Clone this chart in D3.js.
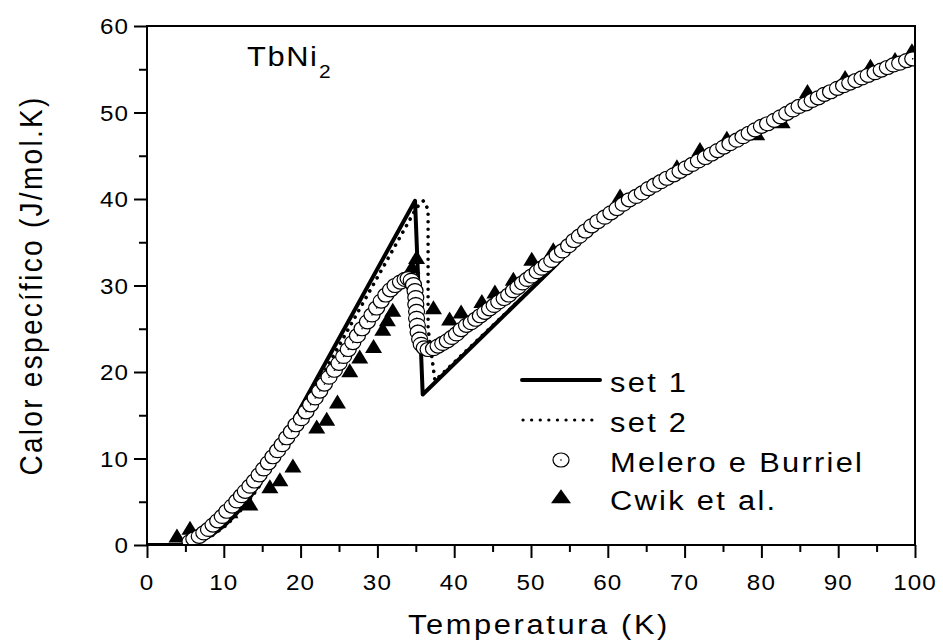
<!DOCTYPE html>
<html>
<head>
<meta charset="utf-8">
<script src="https://cdn.jsdelivr.net/npm/d3@7"></script>
<style>
body { margin: 0; background: #fff; }
text { font-family: "Liberation Sans", Arial, sans-serif; fill: #000; }
</style>
</head>
<body>
<svg id="chart" width="943" height="644"></svg>
<script>
// tick values
var xTicks = [0, 10, 20, 30, 40, 50, 60, 70, 80, 90, 100];
var xMinor = [5, 15, 25, 35, 45, 55, 65, 75, 85, 95];
var yTicks = [0, 10, 20, 30, 40, 50, 60];
var yMinor = [5, 15, 25, 35, 45, 55];

// model curves (temperature K, specific heat)
var set1T = [0, 4.1, 5.5, 7.0, 8.5, 10.0, 11.5, 13.0, 14.5, 16.0, 17.3, 34.9, 35.9, 51.2, 53.5, 56, 60, 65, 70, 75, 80, 85, 90, 95, 100];
var set1C = [0, 0, 0.1, 0.5, 1.2, 2.2, 3.5, 5.0, 6.9, 9.2, 11.5, 39.8, 17.4, 30.6, 32.6, 35.1, 37.8, 40.8, 43.3, 45.7, 48.1, 50.5, 52.6, 54.5, 56.4];
var set2T = [0, 4.1, 5.7, 7.2, 8.7, 10.2, 11.7, 13.2, 14.7, 16.2, 17.7, 35.1, 36.0, 36.6, 36.6, 37.5, 51.2, 53.5, 56, 60, 65, 70, 75, 80, 85, 90, 95, 100];
var set2C = [0, 0, 0.1, 0.5, 1.2, 2.2, 3.5, 5.0, 6.9, 9.2, 11.5, 39.0, 39.8, 38.8, 25.0, 19.0, 30.6, 32.6, 35.1, 37.8, 40.8, 43.3, 45.7, 48.1, 50.5, 52.6, 54.5, 56.4];

// Melero e Burriel [T, C]
var melero = [
  [5.6,0.4],[6.1,0.7],[6.8,1.0],[7.4,1.4],[8.0,1.8],[8.6,2.3],[9.2,2.8],[9.8,3.3],[10.4,3.9],[11.1,4.5],
  [11.7,5.1],[12.3,5.7],[12.8,6.2],[13.4,6.8],[14.0,7.4],[14.6,8.1],[15.2,8.8],[15.8,9.5],[16.4,10.2],[17.0,10.9],
  [17.6,11.6],[18.2,12.4],[18.8,13.1],[19.4,13.9],[20.1,14.6],[20.7,15.4],[21.3,16.2],[21.9,17.0],[22.5,17.8],[23.1,18.6],
  [23.7,19.4],[24.4,20.2],[25.0,21.0],[25.6,21.8],[26.2,22.6],[26.8,23.4],[27.4,24.2],[28.0,25.0],[28.7,25.8],[29.3,26.6],
  [29.9,27.4],[30.5,28.2],[31.1,28.9],[31.7,29.5],[32.3,30.0],[33.0,30.4],[33.6,30.7],[34.0,30.8],[34.4,30.6],[34.7,30.1],
  [34.9,29.4],[35.0,28.6],[35.0,27.8],[35.1,27.0],[35.1,26.2],[35.2,25.4],[35.3,24.6],[35.5,23.8],[35.7,23.2],[36.1,22.8],
  [36.6,22.6],[37.3,22.7],[37.9,23.0],[38.5,23.3],[39.1,23.6],[39.7,24.0],[40.3,24.4],[40.9,24.9],[41.6,25.4],[42.2,25.7],
  [42.8,26.1],[43.4,26.5],[44.0,26.9],[44.6,27.3],[45.2,27.7],[45.8,28.1],[46.5,28.5],[47.1,28.9],[47.7,29.4],[48.3,29.8],
  [48.9,30.3],[49.5,30.7],[50.1,31.1],[50.8,31.6],[51.4,32.0],[52.0,32.4],[52.7,32.9],[53.4,33.5],[54.1,34.0],[54.9,34.6],
  [55.6,35.2],[56.3,35.7],[57.1,36.3],[57.9,36.9],[58.7,37.4],[59.6,37.9],[60.4,38.4],[61.2,38.9],[62.0,39.4],[62.8,39.9],
  [63.7,40.3],[64.5,40.7],[65.3,41.2],[66.1,41.6],[66.9,42.0],[67.7,42.4],[68.6,42.8],[69.4,43.2],[70.2,43.6],[71.0,44.0],
  [71.8,44.4],[72.7,44.8],[73.5,45.2],[74.3,45.6],[75.1,46.0],[75.9,46.4],[76.8,46.8],[77.6,47.2],[78.4,47.6],[79.2,48.0],
  [80.0,48.4],[80.8,48.7],[81.7,49.1],[82.5,49.5],[83.3,49.9],[84.1,50.3],[84.9,50.7],[85.8,51.0],[86.6,51.4],[87.4,51.7],
  [88.2,52.1],[89.0,52.4],[89.9,52.8],[90.7,53.1],[91.5,53.4],[92.3,53.7],[93.1,54.0],[93.9,54.3],[94.8,54.6],[95.6,54.9],
  [96.4,55.2],[97.2,55.5],[98.0,55.7],[98.9,56.0],[99.7,56.2]
];

// Cwik et al. [T, C]
var cwik = [
  [3.9,0.9],[5.6,1.8],[10.8,3.7],[13.4,4.6],[16.0,6.6],[17.3,7.4],[19.0,9.0],[22.1,13.5],[23.4,14.4],[24.8,16.4],
  [26.4,20.0],[27.7,21.6],[29.5,22.8],[30.7,24.8],[31.3,25.9],[32.0,27.0],[34.5,32.0],[35.1,33.1],[37.3,27.3],[39.4,26.0],
  [40.9,26.8],[43.6,28.0],[45.3,29.1],[47.7,30.6],[50.1,32.9],[52.9,34.0],[61.6,40.2],[69.0,43.6],[72.0,45.6],[75.5,46.9],
  [79.4,47.4],[82.7,48.8],[86.0,52.3],[90.9,53.9],[94.2,55.2],[97.4,56.0],[99.6,57.0]
];

var legendItems = ["set 1", "set 2", "Melero e Burriel", "Cwik et al."];

var svg = d3.select('#chart');
var x = d3.scaleLinear().domain([0, 100]).range([147, 915]);
var y = d3.scaleLinear().domain([0, 60]).range([545, 26]);

var stretch = 1.1;

// triangle marker path, apex up
var triPath = function(w, h){
    return 'M0,' + (-h * 0.62) + 'L' + (w / 2) + ',' + (h * 0.38) + 'L' + (-w / 2) + ',' + (h * 0.38) + 'Z';
};

svg.append('clipPath').attr('id', 'plotclip')
  .append('rect')
    .attr('x', x(0)).attr('y', y(60))
    .attr('width', x(100) - x(0)).attr('height', y(0) - y(60));

var plot = svg.append('g').attr('clip-path', 'url(#plotclip)');

var line = d3.line()
    .x(function(d){ return x(d[0]); })
    .y(function(d){ return y(d[1]); });

var set1 = set1T.map(function(t, i){ return [t, set1C[i]]; });
var set2 = set2T.map(function(t, i){ return [t, set2C[i]]; });

plot.append('path')
    .datum(set1)
    .attr('d', line)
    .attr('fill', 'none')
    .attr('stroke', '#000')
    .attr('stroke-width', 4)
    .attr('stroke-linejoin', 'round');

plot.append('path')
    .datum(set2)
    .attr('d', line)
    .attr('fill', 'none')
    .attr('stroke', '#000')
    .attr('stroke-width', 3.6)
    .attr('stroke-linecap', 'round')
    .attr('stroke-dasharray', '0.1,7.4');

plot.selectAll('.tri')
    .data(cwik).enter()
    .append('path')
    .attr('class', 'tri')
    .attr('transform', function(d){ return 'translate(' + x(d[0]) + ',' + y(d[1]) + ')'; })
    .attr('d', triPath(17, 14))
    .attr('fill', '#000');

var pts = plot.selectAll('.pt')
    .data(melero).enter()
    .append('g')
    .attr('class', 'pt')
    .attr('transform', function(d){ return 'translate(' + x(d[0]) + ',' + y(d[1]) + ')'; });
pts.append('ellipse')
    .attr('rx', 8).attr('ry', 7)
    .attr('fill', '#fff')
    .attr('stroke', '#000')
    .attr('stroke-width', 1.2);
pts.append('circle')
    .attr('r', 0.8)
    .attr('fill', '#000');

// axes: ticks only, labels drawn below
var axB = svg.append('g').attr('transform', 'translate(0,' + y(0) + ')');
axB.call(d3.axisBottom(x).tickValues(xTicks).tickSize(13).tickFormat(''));
axB.append('g').call(d3.axisBottom(x).tickValues(xMinor).tickSize(7).tickFormat(''));
var axL = svg.append('g').attr('transform', 'translate(' + x(0) + ',0)');
axL.call(d3.axisLeft(y).tickValues(yTicks).tickSize(13).tickFormat(''));
axL.append('g').call(d3.axisLeft(y).tickValues(yMinor).tickSize(8).tickFormat(''));
svg.selectAll('.tick line').attr('stroke', '#000').attr('stroke-width', 2);
svg.selectAll('.domain').remove();

svg.append('rect')
    .attr('x', x(0)).attr('y', y(60))
    .attr('width', x(100) - x(0)).attr('height', y(0) - y(60))
    .attr('fill', 'none')
    .attr('stroke', '#000')
    .attr('stroke-width', 2);

// tick labels
svg.selectAll('.xlab')
    .data(xTicks).enter()
    .append('text')
    .attr('class', 'xlab')
    .attr('transform', function(d){ return 'translate(' + x(d) + ',590) scale(' + stretch + ',1)'; })
    .attr('text-anchor', 'middle')
    .style('font-size', '22px')
    .style('letter-spacing', '1px')
    .text(function(d){ return d; });

svg.selectAll('.ylab')
    .data(yTicks).enter()
    .append('text')
    .attr('class', 'ylab')
    .attr('transform', function(d){ return 'translate(129,' + (y(d) + 8) + ') scale(' + stretch + ',1)'; })
    .attr('text-anchor', 'end')
    .style('font-size', '22px')
    .style('letter-spacing', '1px')
    .text(function(d){ return d; });

// axis titles
svg.append('text')
    .attr('transform', 'translate(' + ((x(0) + x(100)) / 2 + 8) + ',634) scale(' + stretch + ',1)')
    .attr('text-anchor', 'middle')
    .style('font-size', '28px')
    .style('letter-spacing', '2.4px')
    .text('Temperatura (K)');

svg.append('text')
    .attr('transform', 'translate(42,' + ((y(0) + y(60)) / 2) + ') rotate(-90) scale(1,' + stretch + ')')
    .attr('text-anchor', 'middle')
    .style('font-size', '28px')
    .style('letter-spacing', '2.3px')
    .text('Calor específico (J/mol.K)');

// compound label
svg.append('text')
    .attr('transform', 'translate(247,66) scale(' + stretch + ',1)')
    .style('font-size', '28px')
    .style('letter-spacing', '1.5px')
    .text('TbNi');
svg.append('text')
    .attr('transform', 'translate(319,78) scale(' + stretch + ',1)')
    .style('font-size', '19px')
    .text('2');

// legend
var leg = svg.append('g');
var rowY = [380, 420, 460, 498];
leg.append('line')
    .attr('x1', 522).attr('x2', 600).attr('y1', rowY[0]).attr('y2', rowY[0])
    .attr('stroke', '#000').attr('stroke-width', 4).attr('stroke-linecap', 'round');
leg.append('line')
    .attr('x1', 523).attr('x2', 600).attr('y1', rowY[1]).attr('y2', rowY[1])
    .attr('stroke', '#000').attr('stroke-width', 3.2)
    .attr('stroke-linecap', 'round').attr('stroke-dasharray', '0.1,8.5');
leg.append('ellipse')
    .attr('cx', 561).attr('cy', rowY[2])
    .attr('rx', 8).attr('ry', 7)
    .attr('fill', '#fff').attr('stroke', '#000').attr('stroke-width', 1.2);
leg.append('circle')
    .attr('cx', 561).attr('cy', rowY[2]).attr('r', 0.8).attr('fill', '#000');
leg.append('path')
    .attr('transform', 'translate(561,' + rowY[3] + ')')
    .attr('d', triPath(20, 14))
    .attr('fill', '#000');

leg.selectAll('.legtext')
    .data(legendItems).enter()
    .append('text')
    .attr('class', 'legtext')
    .attr('transform', function(d, i){ return 'translate(610,' + (rowY[i] + 12) + ') scale(' + stretch + ',1)'; })
    .style('font-size', '28px')
    .style('letter-spacing', '2.1px')
    .text(function(d){ return d; });
</script>
</body>
</html>
